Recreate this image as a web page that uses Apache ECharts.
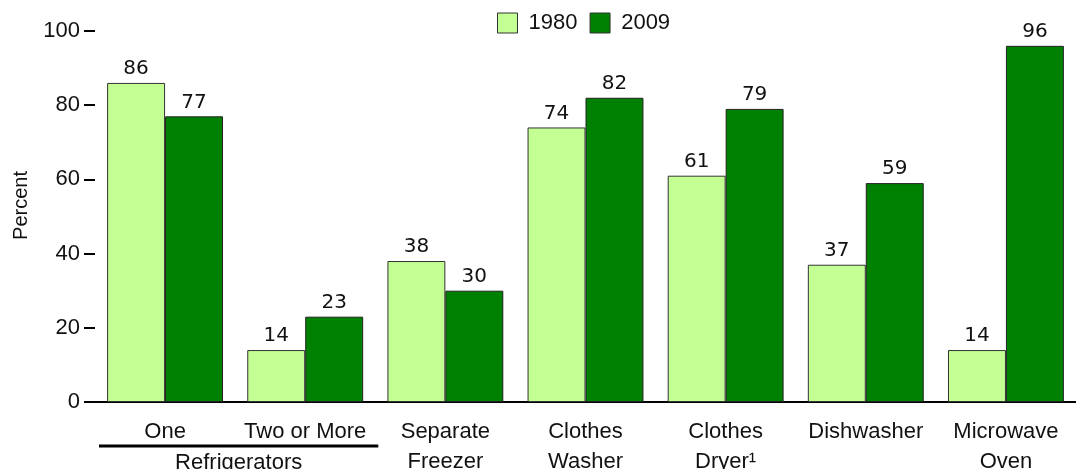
<!DOCTYPE html>
<html>
<head>
<meta charset="utf-8">
<script src="https://cdn.jsdelivr.net/npm/echarts@6/dist/echarts.min.js"></script>
<style>html,body{margin:0;padding:0;background:#fff}#c{width:1076px;height:469px}</style>
</head>
<body>
<div id="c"></div>
<script>
const categories = ["One", "Two or More", "Separate\nFreezer", "Clothes\nWasher", "Clothes\nDryer\u00b9", "Dishwasher", "Microwave\nOven"];
const series1980 = [86, 14, 38, 74, 61, 37, 14];
const series2009 = [77, 23, 30, 82, 79, 59, 96];
const yTicks = [0, 20, 40, 60, 80, 100];
const groupLabel = "Refrigerators";

const chart = echarts.init(document.getElementById('c'), null, {renderer: 'canvas'});
const labelStyle = {show: true, position: 'top', distance: 4, fontFamily: 'DejaVu Sans', fontSize: 20, color: '#111'};
chart.setOption({
  animation: false,
  backgroundColor: '#fff',
  grid: {left: 95, right: 0, top: 31, bottom: 67, outerBoundsMode: 'none', containLabel: false},
  legend: {
    top: 12, left: 497, padding: 0, itemWidth: 20, itemHeight: 20, itemGap: 12,
    icon: 'rect',
    itemStyle: {borderColor: '#333', borderWidth: 1},
    formatter: name => ' ' + name,
    textStyle: {fontFamily: 'Liberation Sans', fontSize: 22, color: '#111'},
    data: ['1980', '2009']
  },
  xAxis: {
    type: 'category', data: categories,
    axisLine: {show: true, lineStyle: {color: '#000', width: 2}},
    axisTick: {show: false},
    axisLabel: {fontFamily: 'Liberation Sans', fontSize: 22, color: '#111', lineHeight: 30, margin: 15, interval: 0}
  },
  yAxis: {
    type: 'value', min: 0, max: 100, interval: 20,
    name: 'Percent', nameLocation: 'middle', nameGap: 64,
    nameTextStyle: {fontFamily: 'Liberation Sans', fontSize: 20, color: '#111', padding: [0, 0, 0, 22]},
    axisLine: {show: false},
    axisTick: {show: true, length: 11, lineStyle: {color: '#000', width: 2}},
    axisLabel: {fontFamily: 'Liberation Sans', fontSize: 22, color: '#111', margin: 15,
      formatter: v => yTicks.includes(v) ? String(v) : ''},
    splitLine: {show: false}
  },
  series: [
    {name: '1980', type: 'bar', data: series1980, barGap: '0%', barCategoryGap: '17.3%',
     itemStyle: {color: '#c4ff94', borderColor: '#333', borderWidth: 1}, label: labelStyle},
    {name: '2009', type: 'bar', data: series2009,
     itemStyle: {color: '#008000', borderColor: '#222', borderWidth: 1}, label: labelStyle}
  ]
});

const c0 = chart.convertToPixel({xAxisIndex: 0}, 0);
const c1 = chart.convertToPixel({xAxisIndex: 0}, 1);
const band = c1 - c0;
const y0 = chart.convertToPixel({yAxisIndex: 0}, 0);
const x1 = c0 - band / 2 + 4, x2 = c1 + band / 2 + 3;
chart.setOption({
  graphic: [
    {type: 'line', shape: {x1: x1, y1: y0 + 44, x2: x2, y2: y0 + 44}, style: {stroke: '#000', lineWidth: 3}},
    {type: 'text', x: (x1 + x2) / 2, y: y0 + 50, style: {text: groupLabel, fontFamily: 'Liberation Sans', fontSize: 22, fill: '#111', align: 'center', verticalAlign: 'top'}}
  ]
});
</script>
</body>
</html>
